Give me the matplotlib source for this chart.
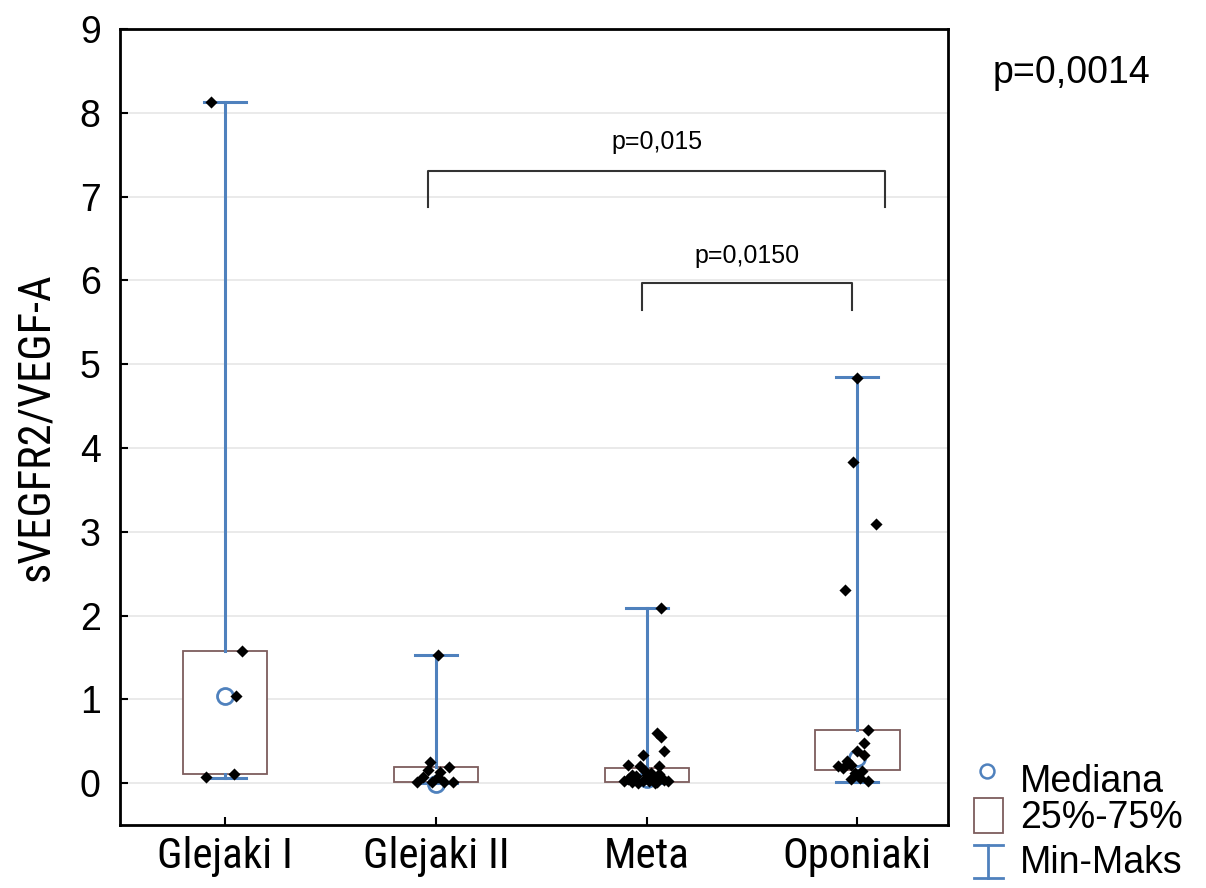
import matplotlib
matplotlib.use("Agg")
import matplotlib.pyplot as plt
from matplotlib import font_manager
from matplotlib.lines import Line2D
from matplotlib.patches import Rectangle

# ---- data -------------------------------------------------------------
groups = ["Glejaki I", "Glejaki II", "Meta", "Oponiaki"]

q_min = [0.06, 0.00, 0.00, 0.01]
q1 = [0.107, 0.01, 0.01, 0.155]
median = [1.04, -0.01, 0.05, 0.30]
q3 = [1.576, 0.19, 0.18, 0.63]
q_max = [8.13, 1.53, 2.09, 4.85]

pts_glejaki1 = [8.13, 1.58, 1.04, 0.07, 0.11]
jit_glejaki1 = [-0.07, 0.08, 0.05, -0.09, 0.04]

pts_glejaki2 = [1.53, 0.25, 0.19, 0.01, 0.07, 0.01, 0.07, 0.01, 0.01, 0.13, 0.16]
jit_glejaki2 = [0.01, -0.03, 0.06, -0.09, -0.06, -0.02, 0.01, 0.04, 0.08, 0.02, -0.04]

pts_meta = [2.09, 0.60, 0.55, 0.38, 0.33, 0.22, 0.20, 0.20,
            0.02, 0.05, 0.01, 0.08, 0.03, 0.10, 0.02, 0.06, 0.01,
            0.04, 0.02, 0.15, 0.12, 0.10, 0.11, 0.00, 0.00]
jit_meta = [0.07, 0.05, 0.07, 0.08, -0.02, -0.09, -0.03, 0.06,
            -0.11, -0.09, -0.07, -0.05, -0.02, 0.00, 0.01, 0.03, 0.05,
            0.08, 0.10, -0.01, 0.02, -0.07, 0.06, -0.04, 0.04]

pts_oponiaki = [4.84, 3.83, 3.09, 2.30, 0.63, 0.48, 0.38, 0.33, 0.26,
                0.20, 0.22, 0.15, 0.12, 0.05, 0.02, 0.06, 0.18]
jit_oponiaki = [0.00, -0.02, 0.09, -0.06, 0.05, 0.03, 0.00, 0.03, -0.05,
                -0.09, -0.03, 0.02, -0.01, -0.03, 0.05, 0.01, -0.07]

points = [pts_glejaki1, pts_glejaki2, pts_meta, pts_oponiaki]
jitter = [jit_glejaki1, jit_glejaki2, jit_meta, jit_oponiaki]

# pairwise comparisons: bracket ends, bracket top, leg bottom, label, label height
comparisons = [(0.962, 3.133, 7.31, 6.88, "p=0,015", 7.65),
               (1.976, 2.976, 5.97, 5.65, "p=0,0150", 6.29)]
overall_p = "p=0,0014"

y_ticks = list(range(0, 10))
y_label = "sVEGFR2/VEGF-A"
legend_labels = ["Mediana", "25%-75%", "Min-Maks"]

# ---- style ------------------------------------------------------------
BLUE = "#4f81bd"
BOX_EDGE = "#7d5d5d"
FONT = "Liberation Sans"

available = {f.name for f in font_manager.fontManager.ttflist}
narrow = next((n for n in ["Liberation Sans Narrow", "Arial Narrow",
                           "Roboto Condensed", "Open Sans Condensed"]
               if n in available), None)
cat_font = narrow if narrow else FONT
cat_size = 31 if narrow else 27
ylab_size = 32 if narrow else 27

plt.rcParams["font.family"] = [FONT, "DejaVu Sans"]

fig = plt.figure(figsize=(12.06, 8.88), dpi=100)
ax = fig.add_axes([120 / 1206, 1 - 825 / 888, (948 - 120) / 1206, (825 - 29) / 888])

positions = list(range(len(groups)))
stats = []
for i in positions:
    stats.append(dict(med=median[i], q1=q1[i], q3=q3[i],
                      whislo=q_min[i], whishi=q_max[i], mean=median[i],
                      fliers=[]))

ax.bxp(stats, positions=positions, widths=0.4, capwidths=0.2,
       showmeans=True, patch_artist=True,
       boxprops=dict(facecolor="white", edgecolor=BOX_EDGE, linewidth=1.3),
       whiskerprops=dict(color=BLUE, linewidth=2.2),
       capprops=dict(color=BLUE, linewidth=2.2),
       medianprops=dict(linewidth=0),
       meanprops=dict(marker="o", markerfacecolor="none", markeredgecolor=BLUE,
                      markeredgewidth=2, markersize=11.5),
       zorder=2)

for i, (vals, jit) in enumerate(zip(points, jitter)):
    ax.scatter([i + j for j in jit], vals, marker="D", s=38, color="black",
               linewidths=0, zorder=4)

for x1, x2, ytop, yleg, label, ytext in comparisons:
    ax.plot([x1, x1, x2, x2], [yleg, ytop, ytop, yleg], color="#333333",
            linewidth=1.5, zorder=3)
    ax.text((x1 + x2) / 2, ytext, label, ha="center", va="center", fontsize=18)

ax.set_xlim(-0.5, 3.43)
ax.set_ylim(-0.5, 9)
ax.set_yticks(y_ticks)
ax.set_xticks(positions)
ax.set_xticklabels(groups, fontsize=cat_size, family=[cat_font, "DejaVu Sans"])
ax.tick_params(axis="y", direction="in", length=6, width=1.5, labelsize=27, pad=14)
ax.tick_params(axis="x", direction="in", length=6, width=1.5, pad=8)
ax.set_ylabel(y_label, fontsize=ylab_size, family=[cat_font, "DejaVu Sans"], labelpad=16)
ax.yaxis.grid(True, color="#e6e6e6", linewidth=1.2, zorder=0)
ax.set_axisbelow(True)
for sp in ax.spines.values():
    sp.set_linewidth(2)
    sp.set_color("black")

fig.text(993 / 1206, 1 - 83 / 888, overall_p, fontsize=27, ha="left", va="baseline")

# legend drawn in figure pixel space
px = fig.transFigure
W, H = 1206, 888
fig.add_artist(Line2D([987 / W], [1 - 771 / H], marker="o", markersize=10,
                      markerfacecolor="none", markeredgecolor=BLUE,
                      markeredgewidth=1.8, transform=px))
fig.add_artist(Rectangle((974 / W, 1 - 833 / H), 29 / W, 35 / H, transform=px,
                         facecolor="white", edgecolor=BOX_EDGE, linewidth=1.3))
fig.add_artist(Line2D([988 / W, 988 / W], [1 - 845 / H, 1 - 878 / H],
                      color=BLUE, linewidth=2, transform=px))
for yy in (845, 878):
    fig.add_artist(Line2D([974 / W, 1003 / W], [1 - yy / H, 1 - yy / H],
                          color=BLUE, linewidth=2, transform=px))
for label, base in zip(legend_labels, [792, 828, 873]):
    fig.text(1020 / W, 1 - base / H, label, fontsize=27, ha="left", va="baseline")

fig.savefig("out.png", dpi=100, facecolor="white")
